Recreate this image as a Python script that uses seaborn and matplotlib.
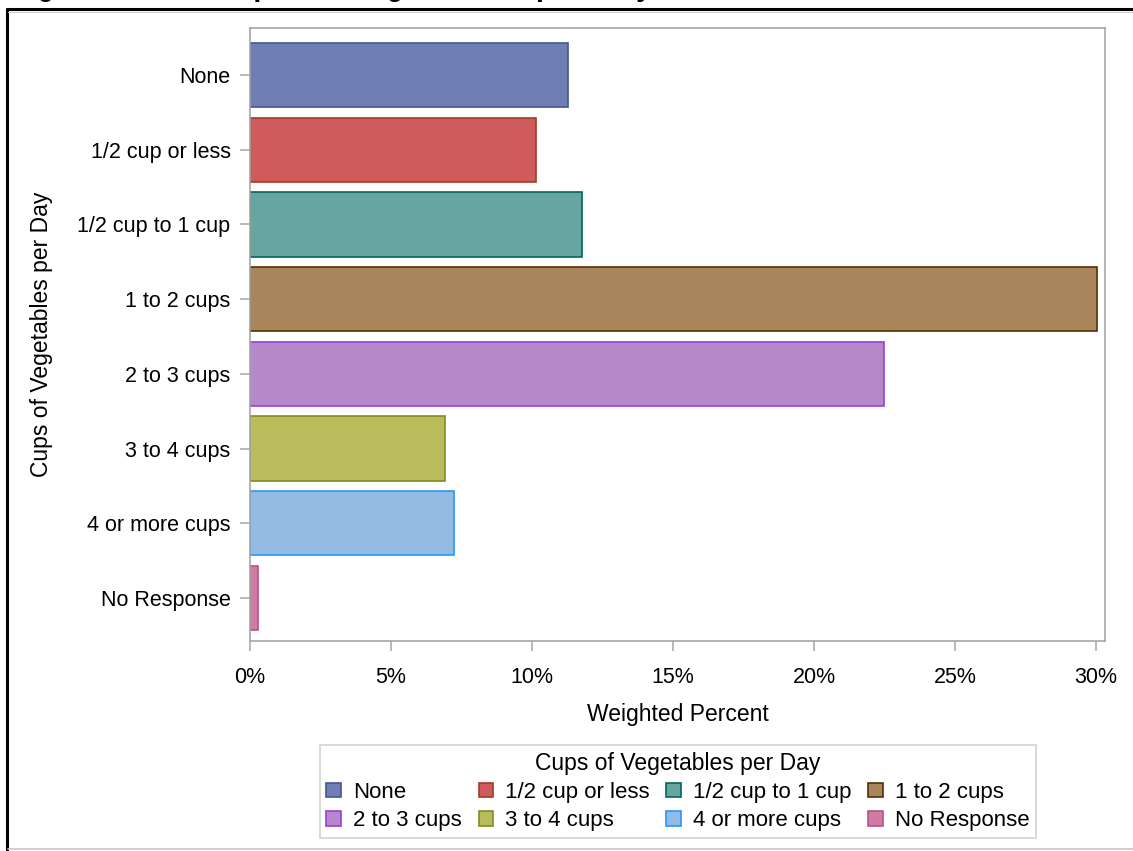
import seaborn as sns
import matplotlib.pyplot as plt
from matplotlib.patches import Patch
from matplotlib.lines import Line2D
from matplotlib.ticker import StrMethodFormatter

categories = ['None', '1/2 cup or less', '1/2 cup to 1 cup', '1 to 2 cups',
              '2 to 3 cups', '3 to 4 cups', '4 or more cups', 'No Response']
percent = [11.28, 10.14, 11.77, 30.02, 22.48, 6.91, 7.23, 0.28]

fill_colors = ['#6F7EB3', '#D05B5B', '#66A5A0', '#A9865B',
               '#B689CB', '#BABC5C', '#94BBE3', '#D07BA3']
edge_colors = ['#445694', '#A23A2E', '#01665E', '#543005',
               '#9D3CDB', '#7F8E1F', '#2597FA', '#B9518A']

title = 'Figure 2.10. Cups of Vegetables per Day'
label = 'Cups of Vegetables per Day'

sns.set_style('white')
plt.rcParams['font.family'] = ['Liberation Sans', 'DejaVu Sans']
plt.rcParams['text.color'] = 'black'
plt.rcParams['axes.labelcolor'] = 'black'
grey = '#A6A6A6'

fig = plt.figure(figsize=(11.33, 8.51), dpi=100)
W, H = 1133, 851
ax = fig.add_axes([250 / W, 1 - 641 / H, 855 / W, 613 / H])

sns.barplot(x=percent, y=categories, hue=categories, palette=fill_colors,
            orient='h', width=0.86, saturation=1, legend=False, ax=ax)
for bar, ec in zip(ax.patches, edge_colors):
    bar.set_edgecolor(ec)
    bar.set_linewidth(1.2)

ax.set_xlim(0, 30.32)
ax.set_ylim(7.576, -0.63)
ax.set_xticks([0, 5, 10, 15, 20, 25, 30])
ax.xaxis.set_major_formatter(StrMethodFormatter('{x:.0f}%'))
for s in ax.spines.values():
    s.set_color(grey)
    s.set_linewidth(1.2)
ax.tick_params(axis='both', which='major', direction='out', length=7,
               width=1.1, color=grey, labelsize=15.5, labelcolor='black')
ax.tick_params(axis='y', pad=7, left=True)
ax.tick_params(axis='x', pad=12, bottom=True)
ax.set_xlabel('Weighted Percent', fontsize=16.5)
ax.set_ylabel(label, fontsize=16.5)
ax.xaxis.set_label_coords(0.5, -(714 - 641) / 613)
ax.yaxis.set_label_coords(-(250 - 42) / 855, 0.5)
ax.xaxis.label.set_va('center')
ax.yaxis.label.set_va('center')

# legend is filled row by row in the reference
order = [0, 4, 1, 5, 2, 6, 3, 7]
handles = [Patch(facecolor=fill_colors[i], edgecolor=edge_colors[i], linewidth=1.2)
           for i in order]
leg = fig.legend(handles, [categories[i] for i in order], title=label, ncol=4,
                 loc='upper center', bbox_to_anchor=(678 / W, 1 - 745 / H),
                 fontsize=16, title_fontsize=16.5, frameon=True, fancybox=False,
                 handlelength=0.65, handleheight=0.65, handletextpad=0.55,
                 columnspacing=0.75, labelspacing=0.32, borderpad=0.3,
                 borderaxespad=0)
leg.get_frame().set_edgecolor('#C8C8C8')
leg.get_frame().set_linewidth(1.2)

# outer frame around the chart (cropped page)
fig.add_artist(Line2D([6.5 / W, 1], [1 - 8.5 / H, 1 - 8.5 / H],
                      color='black', lw=2.2, transform=fig.transFigure))
fig.add_artist(Line2D([6.5 / W, 6.5 / W], [0, 1 - 8.5 / H],
                      color='black', lw=2.2, transform=fig.transFigure))
fig.add_artist(Line2D([8 / W, 1], [1 - 11.5 / H, 1 - 11.5 / H],
                      color='#D0D0D0', lw=0.8, transform=fig.transFigure))
fig.add_artist(Line2D([8 / W, 1], [1 - 849 / H, 1 - 849 / H],
                      color='#C8C8C8', lw=1.2, transform=fig.transFigure))
fig.text(3.5 / W, 1 + 4 / H, title, family='Liberation Mono', weight='bold',
         fontsize=19.9, va='baseline', ha='left')

fig.savefig('out.png', dpi=100)
